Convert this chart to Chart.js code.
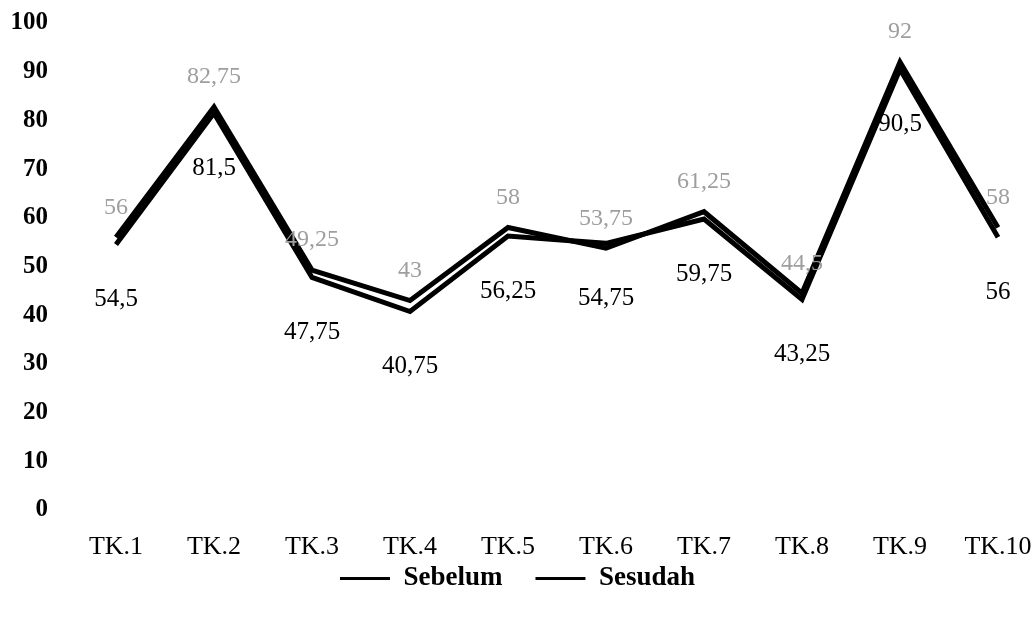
<!DOCTYPE html>
<html>
<head>
<meta charset="utf-8">
<script src="https://cdn.jsdelivr.net/npm/chart.js@4/dist/chart.umd.min.js"></script>
<style>
  html, body { margin: 0; padding: 0; background: #fff; }
  #wrap { width: 1035px; height: 620px; }
</style>
</head>
<body>
<div id="wrap"><canvas id="c" width="1035" height="620"></canvas></div>
<script>
// Category labels along the x axis
const categories = ['TK.1', 'TK.2', 'TK.3', 'TK.4', 'TK.5', 'TK.6', 'TK.7', 'TK.8', 'TK.9', 'TK.10'];
// Scores per group
const sebelum = [56, 82.75, 49.25, 43, 58, 53.75, 61.25, 44.5, 92, 58];
const sesudah = [54.5, 81.5, 47.75, 40.75, 56.25, 54.75, 59.75, 43.25, 90.5, 56];
// Value axis range
const yMin = 0;
const yMax = 100;
const yStep = 10;

const SERIF = '"Liberation Serif", "Times New Roman", serif';

// Value labels: Sebelum in light grey above the line, Sesudah in black below
const labelStyles = [
  { color: '#9e9e9e', font: '24px ' + SERIF, dy: -30 },
  { color: '#000000', font: '25px ' + SERIF, dy: 55 }
];

// How far the legend row is pulled up towards the category labels
const legendLift = 28;

const fmt = v => String(v).replace('.', ',');

const valueLabels = {
  id: 'valueLabels',
  afterLayout(chart) {
    const lg = chart.legend;
    if (lg) {
      lg.top -= legendLift;
      lg.bottom -= legendLift;
    }
  },
  afterDatasetsDraw(chart) {
    const ctx = chart.ctx;
    chart.data.datasets.forEach((ds, i) => {
      const meta = chart.getDatasetMeta(i);
      const st = labelStyles[i];
      ctx.save();
      ctx.font = st.font;
      ctx.fillStyle = st.color;
      ctx.textAlign = 'center';
      ctx.textBaseline = 'middle';
      meta.data.forEach((pt, j) => {
        ctx.fillText(fmt(ds.data[j]), pt.x, pt.y + st.dy);
      });
      ctx.restore();
    });
  }
};

new Chart(document.getElementById('c'), {
  type: 'line',
  data: {
    labels: categories,
    datasets: [
      {
        label: 'Sebelum',
        data: sebelum,
        borderColor: '#000',
        backgroundColor: '#000',
        borderWidth: 5,
        borderJoinStyle: 'miter',
        pointRadius: 0,
        pointHoverRadius: 0,
        tension: 0,
        fill: false
      },
      {
        label: 'Sesudah',
        data: sesudah,
        borderColor: '#000',
        backgroundColor: '#000',
        borderWidth: 5,
        borderJoinStyle: 'miter',
        pointRadius: 0,
        pointHoverRadius: 0,
        tension: 0,
        fill: false
      }
    ]
  },
  options: {
    responsive: false,
    devicePixelRatio: 1,
    animation: false,
    layout: { padding: { top: 23, left: 0, right: 0, bottom: 0 } },
    plugins: {
      tooltip: { enabled: false },
      legend: {
        position: 'bottom',
        maxHeight: 60,
        labels: {
          color: '#000',
          font: { family: SERIF, size: 27, weight: 'bold' },
          boxWidth: 50,
          boxHeight: 3,
          padding: 33,
          generateLabels(chart) {
            return chart.data.datasets.map((ds, i) => ({
              text: ds.label,
              fillStyle: '#000',
              strokeStyle: '#000',
              lineWidth: 0,
              fontColor: '#000',
              datasetIndex: i,
              hidden: false
            }));
          }
        }
      }
    },
    scales: {
      x: {
        offset: false,
        grid: { display: false, drawTicks: false },
        border: { display: false },
        ticks: {
          color: '#000',
          font: { family: SERIF, size: 26 },
          padding: 22,
          maxRotation: 0,
          autoSkip: false
        },
        afterFit(scale) {
          scale.paddingLeft = 0;
          scale.paddingRight = 37;
          scale.height = 50;
        }
      },
      y: {
        min: yMin,
        max: yMax,
        grid: { display: false, drawTicks: false },
        border: { display: false },
        ticks: {
          stepSize: yStep,
          color: '#000',
          font: { family: SERIF, size: 25, weight: 'bold' },
          padding: 68
        },
        afterFit(scale) {
          scale.width = 116;
          scale.paddingTop = 0;
          scale.paddingBottom = 0;
        }
      }
    }
  },
  plugins: [valueLabels]
});
</script>
</body>
</html>
